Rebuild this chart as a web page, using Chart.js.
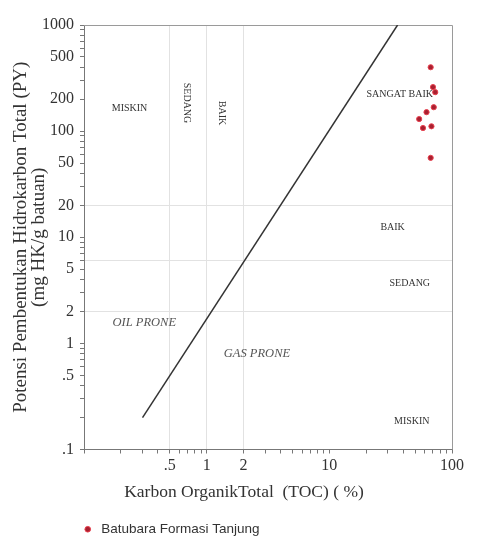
<!DOCTYPE html>
<html>
<head>
<meta charset="utf-8">
<script src="https://cdn.jsdelivr.net/npm/chart.js@4/dist/chart.umd.min.js"></script>
<style>
  html, body { margin: 0; padding: 0; background: #fff; }
  #wrap { width: 481px; height: 536px; }
</style>
</head>
<body>
<div id="wrap"><canvas id="chart"></canvas></div>
<script>
// TOC (%) vs PY (mg HK/g batuan)
const tocValues = [67, 70, 73, 71, 62, 54, 58, 68, 67];
const pyValues = [400, 260, 233, 168, 151, 130, 107, 111, 56];

// oil prone / gas prone divider
const dividerToc = [0.3, 36];
const dividerPy = [0.2, 1000];

const xTickValues = [0.5, 1, 2, 10, 100];
const xTickLabels = ['.5', '1', '2', '10', '100'];
const yTickValues = [1000, 500, 200, 100, 50, 20, 10, 5, 2, 1, 0.5, 0.1];
const yTickLabels = ['1000', '500', '200', '100', '50', '20', '10', '5', '2', '1', '.5', '.1'];

const xGridValues = [0.5, 1, 2];
const yGridValues = [20, 6, 2];

const xTitle = 'Karbon OrganikTotal  (TOC) ( %)';
const yTitle = ['Potensi Pembentukan Hidrokarbon Total (PY)', '(mg HK/g batuan)'];

const zoneLabels = [
    { text: 'MISKIN', toc: 0.235, py: 165 },
    { text: 'SEDANG', toc: 0.69, py: 184, rotate: true },
    { text: 'BAIK', toc: 1.33, py: 148, rotate: true },
    { text: 'SANGAT BAIK', toc: 37.5, py: 223 },
    { text: 'BAIK', toc: 32.8, py: 12.4 },
    { text: 'SEDANG', toc: 45.3, py: 3.7 },
    { text: 'MISKIN', toc: 47, py: 0.184 },
    { text: 'OIL PRONE', toc: 0.31, py: 1.55, italic: true },
    { text: 'GAS PRONE', toc: 2.57, py: 0.8, italic: true }
];

const serif = "'Liberation Serif', 'Times New Roman', serif";

function near(a, b) {
    return Math.abs(a - b) < 1e-6 * Math.abs(b);
}

// 1..9 x 10^n tick marks between min and max
function logTicks(min, max) {
    const out = [];
    for (let e = Math.round(Math.log10(min)); Math.pow(10, e) <= max * 1.0001; e++) {
        for (let m = 1; m < 10; m++) {
            const v = Number((m * Math.pow(10, e)).toPrecision(6));
            if (v >= min * 0.9999 && v <= max * 1.0001) out.push({ value: v });
        }
    }
    return out;
}

function labelFor(values, labels) {
    return (value) => {
        const i = values.findIndex(v => near(v, value));
        return i >= 0 ? labels[i] : '';
    };
}

function gridFor(values) {
    return (ctx) => (ctx.tick && values.some(v => near(v, ctx.tick.value))) ? '#e2e2e2' : 'rgba(0,0,0,0)';
}

const zoneText = {
    id: 'zoneText',
    beforeDatasetsDraw(chart) {
        const { ctx, chartArea, scales: { x, y } } = chart;
        ctx.save();
        // top and right frame
        ctx.strokeStyle = '#9a9a9a';
        ctx.lineWidth = 1;
        ctx.beginPath();
        ctx.moveTo(chartArea.left, chartArea.top + 0.5);
        ctx.lineTo(chartArea.right + 0.5, chartArea.top + 0.5);
        ctx.lineTo(chartArea.right + 0.5, chartArea.bottom);
        ctx.stroke();

        zoneLabels.forEach(z => {
            ctx.save();
            ctx.translate(x.getPixelForValue(z.toc), y.getPixelForValue(z.py));
            if (z.rotate) ctx.rotate(Math.PI / 2);
            ctx.font = z.italic ? 'italic 12.5px ' + serif : '10px ' + serif;
            ctx.fillStyle = z.italic ? '#555' : '#333';
            ctx.textAlign = 'center';
            ctx.textBaseline = 'middle';
            ctx.fillText(z.text, 0, 0);
            ctx.restore();
        });
        ctx.restore();
    },
    afterDraw(chart) {
        // x axis title sits left of the axis centre in the original
        const { ctx, chartArea } = chart;
        ctx.save();
        ctx.font = '17.5px ' + serif;
        ctx.fillStyle = '#333';
        ctx.textAlign = 'center';
        ctx.textBaseline = 'middle';
        ctx.fillText(xTitle, chartArea.left + 160, chartArea.bottom + 43);
        ctx.restore();
    }
};

const legendShift = {
    id: 'legendShift',
    afterLayout(chart) {
        const lg = chart.legend;
        lg.left += 71;
        lg.right += 71;
        lg.top += 10;
        lg.bottom += 10;
    }
};

new Chart(document.getElementById('chart'), {
    type: 'scatter',
    data: {
        datasets: [
            {
                label: 'Batubara Formasi Tanjung',
                data: tocValues.map((t, i) => ({ x: t, y: pyValues[i] })),
                backgroundColor: '#a82030',
                borderColor: '#e8414f',
                borderWidth: 1,
                pointRadius: 2.6,
                pointStyle: 'circle'
            },
            {
                label: 'divider',
                data: dividerToc.map((t, i) => ({ x: t, y: dividerPy[i] })),
                showLine: true,
                borderColor: '#333',
                borderWidth: 1.5,
                pointRadius: 0
            }
        ]
    },
    options: {
        responsive: true,
        maintainAspectRatio: false,
        animation: false,
        layout: { padding: { top: 25, right: 29, bottom: 0, left: 0 } },
        scales: {
            x: {
                type: 'logarithmic',
                min: 0.1,
                max: 100,
                afterBuildTicks: (scale) => { scale.ticks = logTicks(0.1, 100); },
                afterFit: (scale) => { scale.height = 53; },
                ticks: {
                    autoSkip: false,
                    maxRotation: 0,
                    padding: 3,
                    color: '#333',
                    font: { family: serif, size: 16 },
                    callback: labelFor(xTickValues, xTickLabels)
                },
                grid: { color: gridFor(xGridValues), tickColor: '#777', tickLength: 4 },
                border: { color: '#777', width: 1 },
                title: { display: false }
            },
            y: {
                type: 'logarithmic',
                min: 0.1,
                max: 1000,
                afterBuildTicks: (scale) => { scale.ticks = logTicks(0.1, 1000); },
                afterFit: (scale) => { scale.width = 84; },
                ticks: {
                    autoSkip: false,
                    padding: 6,
                    color: '#333',
                    font: { family: serif, size: 16 },
                    callback: labelFor(yTickValues, yTickLabels)
                },
                grid: { color: gridFor(yGridValues), tickColor: '#777', tickLength: 4 },
                border: { color: '#777', width: 1 },
                title: {
                    display: true,
                    text: yTitle,
                    color: '#333',
                    font: { family: serif, size: 19, lineHeight: 0.95 },
                    padding: { top: 12, bottom: 0 }
                }
            }
        },
        plugins: {
            legend: {
                position: 'bottom',
                align: 'start',
                labels: {
                    usePointStyle: true,
                    boxHeight: 4,
                    color: '#333',
                    font: { family: "'Liberation Sans', Arial, sans-serif", size: 13.5 },
                    filter: (item) => item.datasetIndex === 0
                }
            },
            tooltip: { enabled: false }
        }
    },
    plugins: [zoneText, legendShift]
});
</script>
</body>
</html>
